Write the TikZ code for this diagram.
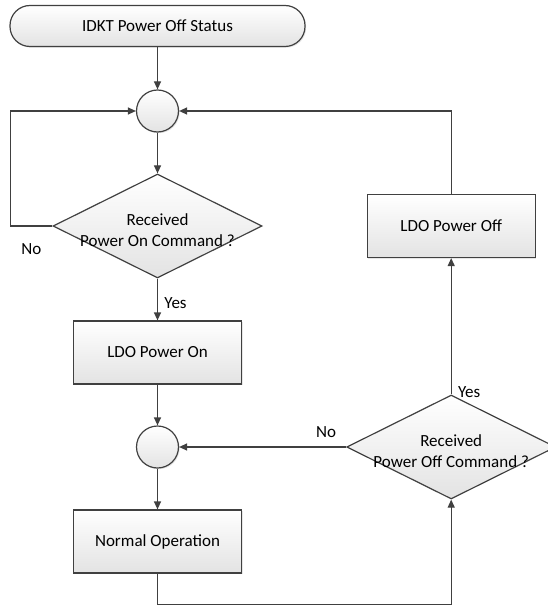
\documentclass[tikz,border=0pt]{standalone}
\usepackage{fontspec}
\setmainfont{Carlito}
\usetikzlibrary{positioning,shapes.geometric,arrows.meta,shadows}
\definecolor{cL}{rgb}{0.25,0.25,0.25}
\definecolor{cF}{rgb}{0.89,0.89,0.89}
\tikzset{mystart/.style={
  shape=rectangle,
  rounded corners=20pt,
  draw=cL,
  line width=1.2pt,
  top color=white,
  bottom color=cF,
  drop shadow={opacity=0.2, shadow xshift=1.2pt, shadow yshift=-1.2pt},
  minimum width=295pt,
  minimum height=41pt,
  }
}
\tikzset{myjoin/.style={
  shape=circle,
  draw=cL,
  line width=1.2pt,
  top color=white,
  bottom color=cF,
  drop shadow={opacity=0.2, shadow xshift=1.2pt, shadow yshift=-1.2pt},
  minimum size=42pt,
  inner sep=0pt,
  }
}
\tikzset{mybox/.style={
  shape=rectangle,
  draw=cL,
  line width=1.2pt,
  top color=white,
  bottom color=cF,
  drop shadow={opacity=0.2, shadow xshift=1.2pt, shadow yshift=-1.2pt},
  minimum width=168pt,
  minimum height=63pt,
  }
}
\tikzset{mydecision/.style={
  shape=diamond,
  draw=cL,
  line width=1.2pt,
  top color=white,
  bottom color=cF,
  minimum width=209pt,
  minimum height=104pt,
  inner sep=0pt,
  }
}
\tikzset{myline/.style={
  draw=cL,
  line width=1.2pt,
  -{Triangle[length=8pt,width=7pt]},
  }
}

\begin{document}
\begin{tikzpicture}[x=1pt, y=1pt, node distance=40.8pt, font=\fontsize{17}{21.5}\selectfont]
  \useasboundingbox (0,0) rectangle (547,-607);

  \node [mystart] (t1) at (157.5,-26) {IDKT Power Off Status};
  \node [myjoin, below=42.3pt of t1] (c1) {};
  \node [mydecision, below=of c1] (d1) {};
  \node [align=center] (d1t) at ([yshift=-4pt]d1.center) {Received\\Power On Command ?};
  \node [mybox, below=41.8pt of d1] (b1) {LDO Power On};
  \node [myjoin, below=of b1] (c2) {};
  \node [mybox, below=of c2] (b2) {Normal Operation};
  \node [mydecision, right=167pt of c2] (d2) {};
  \node [align=center] (d2t) at ([yshift=-4pt]d2.center) {Received\\Power Off Command ?};
  \node [mybox] (b3) at (d2 |- d1) {LDO Power Off};

  \draw [myline] (t1) -- (c1);
  \draw [myline] (c1) -- (d1);
  \draw [myline] (d1.west) -- node [below=14pt] {No} ++(-42,0) |- (c1.west);
  \draw [myline] (d1) -- node [right=3pt, pos=0.58] {Yes} (b1);
  \draw [myline] (b1) -- (c2);
  \draw [myline] (c2) -- (b2);
  \draw [myline] (b2.south) -- ++(0,-30.5) -| (d2.south);
  \draw [myline] (d2.west) -- node [above=5pt, pos=0.12] {No} (c2.east);
  \draw [myline] (d2.north) -- node [right=3pt, pos=0.02] {Yes} (b3.south);
  \draw [myline] (b3.north) |- (c1.east);
\end{tikzpicture}
\end{document}
